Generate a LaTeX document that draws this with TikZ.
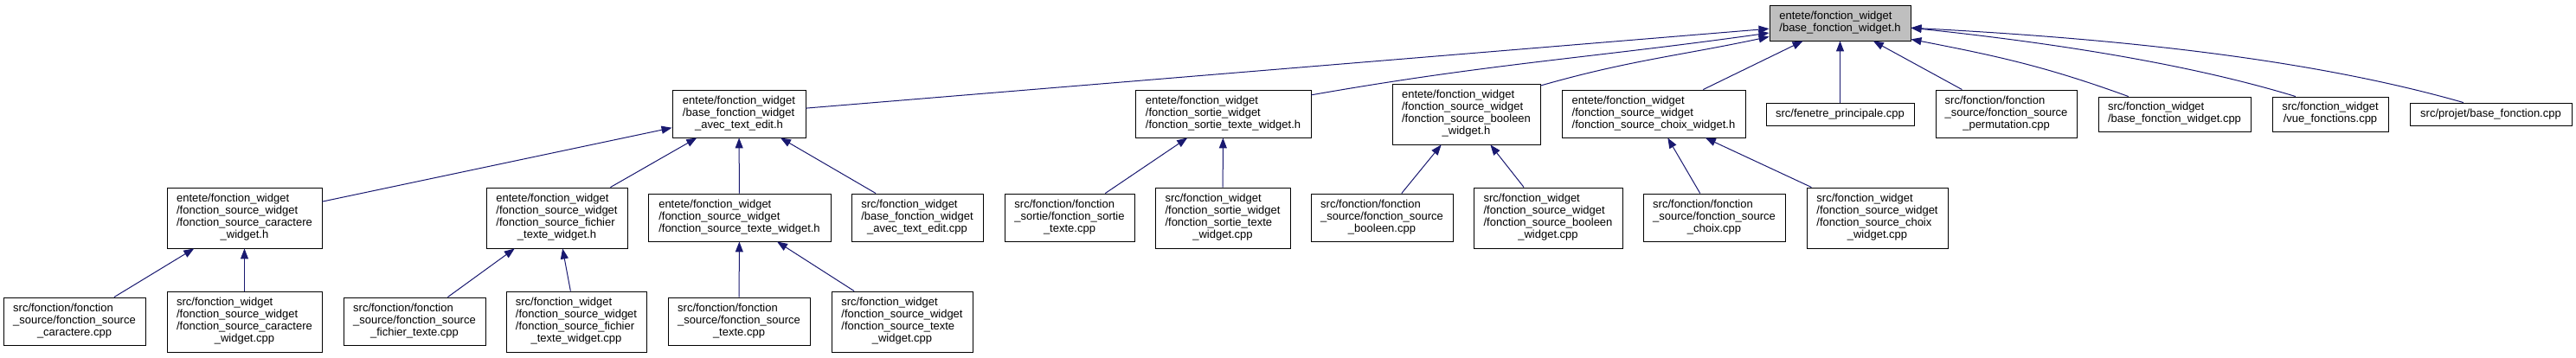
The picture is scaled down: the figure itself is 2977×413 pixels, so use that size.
\documentclass[tikz,border=0pt]{standalone}
\usepackage{fontspec}
\setmainfont{Liberation Sans}
\usetikzlibrary{arrows.meta}
\definecolor{edgeblue}{RGB}{25,25,112}
\definecolor{rootgrey}{RGB}{191,191,191}
\newcommand\lbl[2]{\begin{tabular}{@{}l@{}}#1\\\multicolumn{1}{@{}c@{}}{#2}\end{tabular}}
\begin{document}
\begin{tikzpicture}[x=1pt,y=1pt,
  box/.style={draw=black,line width=0.9pt,fill=white,inner sep=0pt,font=\fontsize{13}{14}\selectfont},
  rootbox/.style={box,fill=rootgrey},
  edge/.style={draw=edgeblue,line width=1pt,-{Triangle[length=12pt,width=9pt]}}]
\useasboundingbox (0,0) rectangle (2977,-413);
% level 0
\node[rootbox,minimum width=163pt,minimum height=41pt] (root) at (2126.5,-26.5) {\lbl{entete/fonction\_widget}{/base\_fonction\_widget.h}};
% level 1
\node[box,minimum width=154pt,minimum height=55pt] (A1) at (854,-131.5) {\lbl{entete/fonction\_widget\\/base\_fonction\_widget}{\_avec\_text\_edit.h}};
\node[box,minimum width=203pt,minimum height=55pt] (A2) at (1413.5,-131.5) {\lbl{entete/fonction\_widget\\/fonction\_sortie\_widget}{/fonction\_sortie\_texte\_widget.h}};
\node[box,minimum width=171pt,minimum height=70pt] (A3) at (1694.5,-132) {\lbl{entete/fonction\_widget\\/fonction\_source\_widget\\/fonction\_source\_booleen}{\_widget.h}};
\node[box,minimum width=212pt,minimum height=55pt] (A4) at (1911,-131.5) {\lbl{entete/fonction\_widget\\/fonction\_source\_widget}{/fonction\_source\_choix\_widget.h}};
\node[box,minimum width=171pt,minimum height=26pt] (A5) at (2126.5,-132) {src/fenetre\_principale.cpp};
\node[box,minimum width=163pt,minimum height=55pt] (A6) at (2318.5,-131.5) {\lbl{src/fonction/fonction\\\_source/fonction\_source}{\_permutation.cpp}};
\node[box,minimum width=176pt,minimum height=40pt] (A7) at (2513,-132) {\lbl{src/fonction\_widget}{/base\_fonction\_widget.cpp}};
\node[box,minimum width=134pt,minimum height=40pt] (A8) at (2693,-132) {\lbl{src/fonction\_widget}{/vue\_fonctions.cpp}};
\node[box,minimum width=187pt,minimum height=26pt] (A9) at (2878.5,-132) {src/projet/base\_fonction.cpp};
% level 2
\node[box,minimum width=179pt,minimum height=70pt] (B1) at (282.5,-252) {\lbl{entete/fonction\_widget\\/fonction\_source\_widget\\/fonction\_source\_caractere}{\_widget.h}};
\node[box,minimum width=163pt,minimum height=70pt] (B2) at (643.5,-252) {\lbl{entete/fonction\_widget\\/fonction\_source\_widget\\/fonction\_source\_fichier}{\_texte\_widget.h}};
\node[box,minimum width=211pt,minimum height=55pt] (B3) at (854.5,-251.5) {\lbl{entete/fonction\_widget\\/fonction\_source\_widget}{/fonction\_source\_texte\_widget.h}};
\node[box,minimum width=152pt,minimum height=55pt] (B4) at (1060,-251.5) {\lbl{src/fonction\_widget\\/base\_fonction\_widget}{\_avec\_text\_edit.cpp}};
\node[box,minimum width=150pt,minimum height=55pt] (B5) at (1236,-251.5) {\lbl{src/fonction/fonction\\\_sortie/fonction\_sortie}{\_texte.cpp}};
\node[box,minimum width=156pt,minimum height=70pt] (B6) at (1413,-252) {\lbl{src/fonction\_widget\\/fonction\_sortie\_widget\\/fonction\_sortie\_texte}{\_widget.cpp}};
\node[box,minimum width=164pt,minimum height=55pt] (B7) at (1597,-251.5) {\lbl{src/fonction/fonction\\\_source/fonction\_source}{\_booleen.cpp}};
\node[box,minimum width=172pt,minimum height=70pt] (B8) at (1789,-252) {\lbl{src/fonction\_widget\\/fonction\_source\_widget\\/fonction\_source\_booleen}{\_widget.cpp}};
\node[box,minimum width=164pt,minimum height=55pt] (B9) at (1981,-251.5) {\lbl{src/fonction/fonction\\\_source/fonction\_source}{\_choix.cpp}};
\node[box,minimum width=163pt,minimum height=70pt] (B10) at (2169.5,-252) {\lbl{src/fonction\_widget\\/fonction\_source\_widget\\/fonction\_source\_choix}{\_widget.cpp}};
% level 3
\node[box,minimum width=164pt,minimum height=55pt] (C1) at (86,-371.5) {\lbl{src/fonction/fonction\\\_source/fonction\_source}{\_caractere.cpp}};
\node[box,minimum width=179pt,minimum height=70pt] (C2) at (282.5,-372) {\lbl{src/fonction\_widget\\/fonction\_source\_widget\\/fonction\_source\_caractere}{\_widget.cpp}};
\node[box,minimum width=164pt,minimum height=55pt] (C3) at (479,-371.5) {\lbl{src/fonction/fonction\\\_source/fonction\_source}{\_fichier\_texte.cpp}};
\node[box,minimum width=162pt,minimum height=70pt] (C4) at (666,-372) {\lbl{src/fonction\_widget\\/fonction\_source\_widget\\/fonction\_source\_fichier}{\_texte\_widget.cpp}};
\node[box,minimum width=164pt,minimum height=55pt] (C5) at (854,-371.5) {\lbl{src/fonction/fonction\\\_source/fonction\_source}{\_texte.cpp}};
\node[box,minimum width=163pt,minimum height=70pt] (C6) at (1042.5,-372) {\lbl{src/fonction\_widget\\/fonction\_source\_widget\\/fonction\_source\_texte}{\_widget.cpp}};
% edges to root
\draw[edge] (A1) -- (root);
\draw[edge] (A2.12) to[out=10,in=188] (root.188);
\draw[edge] (A3.21) to[out=16,in=192] (root.191);
\draw[edge] (A4) -- (root);
\draw[edge] (A5) -- (root);
\draw[edge] (A6) -- (root);
\draw[edge] (A7.159) to[out=160,in=-11] (root.-13);
\draw[edge] (A8.153) to[out=163,in=-6,looseness=0.8] (root.-4);
\draw[edge] (A9.157) to[out=164,in=-3,looseness=0.8] (root.-4);
% level 2 edges
\draw[edge] (B1) -- (A1);
\draw[edge] (B2) -- (A1);
\draw[edge] (B3) -- (A1);
\draw[edge] (B4) -- (A1);
\draw[edge] (B5) -- (A2);
\draw[edge] (B6) -- (A2);
\draw[edge] (B7) -- (A3);
\draw[edge] (B8) -- (A3);
\draw[edge] (B9) -- (A4);
\draw[edge] (B10) -- (A4);
% level 3 edges
\draw[edge] (C1) -- (B1);
\draw[edge] (C2) -- (B1);
\draw[edge] (C3) -- (B2);
\draw[edge] (C4) -- (B2);
\draw[edge] (C5) -- (B3);
\draw[edge] (C6) -- (B3);
\end{tikzpicture}
\end{document}
